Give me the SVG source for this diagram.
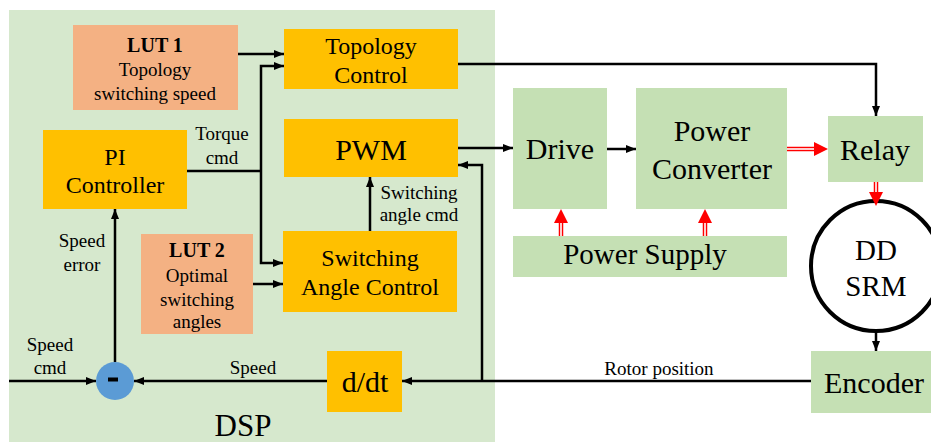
<svg xmlns="http://www.w3.org/2000/svg" width="931" height="442" viewBox="0 0 931 442">
<style>
text{font-family:"Liberation Serif","Times New Roman",serif;fill:#000;text-anchor:middle}
.big{font-size:30px}
.mid{font-size:24px}
.sm{font-size:19px}
.lut{font-size:19px}
.bold{font-weight:bold;font-size:20px}
.orange{fill:#ffc000}
.salmon{fill:#f4b183}
.green{fill:#c5e0b4}
.wire{fill:none;stroke:#000;stroke-width:2.5}
.arr{marker-end:url(#ah)}
.rout{fill:none;stroke:#ff0000;stroke-width:4.5;marker-end:url(#rh)}
.rin{fill:none;stroke:#fff;stroke-width:1.6}
</style>
<defs>
<marker id="ah" markerUnits="userSpaceOnUse" markerWidth="10" markerHeight="8" refX="10" refY="4" orient="auto"><path d="M0,0 L10,4 L0,8 z" fill="#000"/></marker>
<marker id="rh" markerUnits="userSpaceOnUse" markerWidth="14" markerHeight="16" refX="0" refY="7" orient="auto"><path d="M0,0 L14,7 L0,14 z" fill="#ff0000"/></marker>
</defs>
<rect width="931" height="442" fill="#fff"/>
<g id="dsp">
<rect x="9" y="10" width="486" height="440" fill="#d6e8cd"/>
<text x="243" y="436" style="font-size:31px">DSP</text>
</g>
<g id="lut1"><rect class="salmon" x="73" y="25" width="165" height="85"/>
<text class="bold" x="155" y="52">LUT 1</text><text class="lut" x="155" y="76">Topology</text><text class="lut" x="155" y="100">switching speed</text></g>
<g id="topology"><rect class="orange" x="284" y="29" width="174" height="60"/>
<text class="mid" x="371" y="54">Topology</text><text class="mid" x="371" y="83">Control</text></g>
<g id="pi"><rect class="orange" x="43" y="130" width="144" height="79"/>
<text class="mid" x="115" y="165">PI</text><text class="mid" x="115" y="193">Controller</text></g>
<g id="pwm"><rect class="orange" x="284" y="119" width="174" height="58"/>
<text class="big" x="371" y="160">PWM</text></g>
<g id="sac"><rect class="orange" x="283" y="231" width="174" height="81"/>
<text class="mid" x="370" y="266">Switching</text><text class="mid" x="370" y="295">Angle Control</text></g>
<g id="lut2"><rect class="salmon" x="141" y="234" width="112" height="100"/>
<text class="bold" x="197" y="257">LUT 2</text><text class="lut" x="197" y="282">Optimal</text><text class="lut" x="197" y="306">switching</text><text class="lut" x="197" y="328">angles</text></g>
<g id="ddt"><rect class="orange" x="327" y="351" width="75" height="61"/>
<text class="big" x="365" y="392">d/dt</text></g>
<g id="sum"><circle cx="115" cy="381" r="19" fill="#5b9bd5"/><rect x="108" y="377.5" width="10" height="4" fill="#000"/></g>
<g id="drive"><rect class="green" x="513" y="88" width="94" height="121"/>
<text class="big" x="560" y="159">Drive</text></g>
<g id="converter"><rect class="green" x="636" y="88" width="151" height="121"/>
<text class="big" x="712" y="141">Power</text><text class="big" x="712" y="179">Converter</text></g>
<g id="relay"><rect class="green" x="828" y="116" width="95" height="66"/>
<text class="big" x="875" y="160">Relay</text></g>
<g id="supply"><rect class="green" x="513" y="236" width="274" height="41"/>
<text class="big" x="645" y="264" style="font-size:29px">Power Supply</text></g>
<g id="srm"><circle cx="876" cy="266" r="65" fill="#fff" stroke="#000" stroke-width="4"/>
<text class="big" x="876" y="260" style="font-size:29px">DD</text><text class="big" x="876" y="296" style="font-size:29px">SRM</text></g>
<g id="encoder"><rect class="green" x="811" y="351" width="125" height="62"/>
<text class="big" x="874" y="393">Encoder</text></g>
<g id="connectors">
<path class="wire arr" d="M238,54 H284"/>
<path class="wire" d="M187,171 H261"/>
<path class="wire arr" d="M261,171 V66 H284"/>
<path class="wire arr" d="M261,171 V263 H283"/>
<path class="wire arr" d="M253,284 H283"/>
<path class="wire arr" d="M370,231 V177"/>
<path class="wire arr" d="M458,148 H513"/>
<path class="wire arr" d="M482,381 V165 H458"/>
<path class="wire arr" d="M811,381 H402"/>
<path class="wire arr" d="M327,381 H134"/>
<path class="wire arr" d="M9,381 H96"/>
<path class="wire arr" d="M115,362 V209"/>
<path class="wire arr" d="M458,64 H876 V116"/>
<path class="wire arr" d="M607,149 H636"/>
<path class="wire arr" d="M876,332 V351"/>
<path class="rout" d="M787,149 H814"/><path class="rin" d="M787,149 H814"/>
<path class="rout" d="M876,182 V192"/><path class="rin" d="M876,182 V192"/>
<path class="rout" d="M561,236 V223"/><path class="rin" d="M561,236 V223"/>
<path class="rout" d="M705,236 V223"/><path class="rin" d="M705,236 V223"/>
<text class="sm" x="222" y="140">Torque</text><text class="sm" x="222" y="164">cmd</text>
<text class="sm" x="419" y="199">Switching</text><text class="sm" x="419" y="221">angle cmd</text>
<text class="sm" x="82" y="247">Speed</text><text class="sm" x="82" y="271">error</text>
<text class="sm" x="50" y="351">Speed</text><text class="sm" x="50" y="374">cmd</text>
<text class="sm" x="253" y="374">Speed</text>
<text class="sm" x="659" y="375">Rotor position</text>
</g>
</svg>
